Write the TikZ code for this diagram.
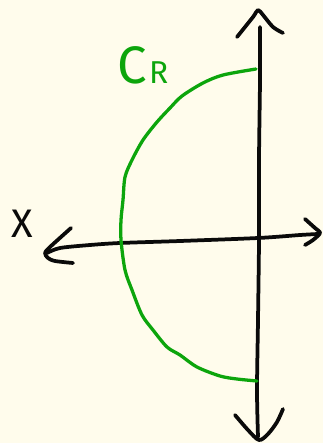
\documentclass[tikz,border=0pt]{standalone}
\usepackage{fontspec}
\newfontfamily\handfont{Fira Sans}
\definecolor{paper}{RGB}{255, 252, 236}
\definecolor{penblack}{RGB}{10, 10, 10}
\definecolor{pengreen}{RGB}{12, 165, 12}
\usetikzlibrary{positioning}

\begin{document}
\begin{tikzpicture}[
  x=0.03cm, y=-0.03cm,
  axisline/.style={draw=penblack, line width=3.2pt, line cap=round, line join=round},
  contour/.style={draw=pengreen, line width=2.8pt, line cap=round, line join=round},
  handlabel/.style={inner sep=0pt, font=\handfont}
]
  % paper
  \fill[paper] (0,0) rectangle (323,443);
  \useasboundingbox (0,0) rectangle (323,443);

  % imaginary axis
  \draw[axisline] plot[smooth] coordinates {(260,27) (260,80) (259,160) (259,240) (258,320) (257,390) (258,437)};
  \draw[axisline] plot[smooth] coordinates {(237,37) (253,17) (258,10) (263,15) (273,27) (283,33)};
  \draw[axisline] plot[smooth] coordinates {(235,415) (248,430) (259,440) (268,434) (277,422) (283,409)};

  % real axis
  \draw[axisline] plot[smooth] coordinates {(47,253) (60,248) (90,245) (120,243) (180,241) (258,238) (300,235) (318,234)};
  \draw[axisline] plot[smooth] coordinates {(71,228) (50,247) (45,253) (48,258) (55,261) (73,263)};
  \draw[axisline] plot[smooth] coordinates {(305,219) (315,228) (320,233) (313,240) (305,245)};

  % half circle
  \draw[contour] plot[smooth] coordinates {(256,69) (223,75) (203,83) (182,96) (170,108) (157,122) (143,140) (132,160) (125,177) (123,200) (121,220) (121,240) (125,270) (132,290) (142,315) (153,330) (167,347) (180,355) (197,367) (220,376) (237,379) (257,381)};

  % labels
  \node[handlabel, text=penblack, anchor=base west] (xlabel) at (11,237) {\fontsize{34}{34}\selectfont X};
  \node[handlabel, text=pengreen, anchor=base west] (crlabel) at (117,83) {\fontsize{45}{45}\selectfont C\kern2pt\fontsize{27}{27}\selectfont R};
\end{tikzpicture}
\end{document}
